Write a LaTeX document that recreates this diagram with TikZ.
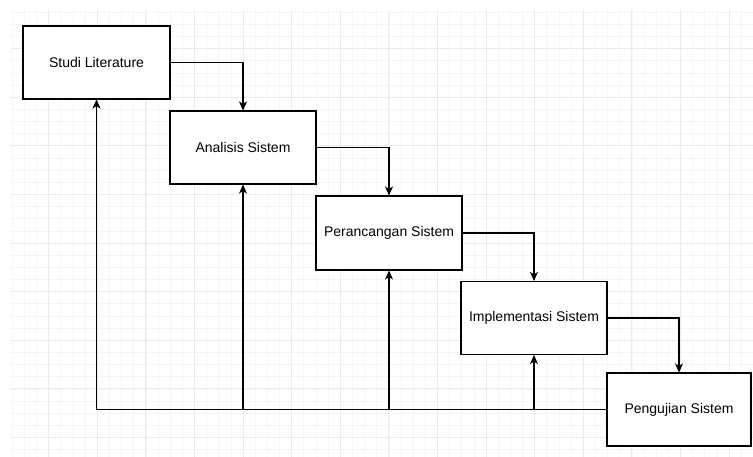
\documentclass[tikz,border=0pt]{standalone}
\usepackage{fontspec}
\setmainfont{Liberation Sans}
\usetikzlibrary{arrows.meta}
\begin{document}
\begin{tikzpicture}[x=1pt,y=-1pt,
    box/.style={draw,line width=1.1pt,fill=white,minimum width=146pt,minimum height=73pt,inner sep=0pt,font=\fontsize{14}{16}\selectfont},
    arr/.style={line width=1.1pt,-{Stealth[length=9pt,width=8pt,inset=2.5pt]}}]
\useasboundingbox (0,0) rectangle (753,457);
% grid
\foreach \i in {1,...,61}{
    \draw[black!4,line width=0.6pt] (\i*12.15,10)--(\i*12.15,457);
}
\foreach \j in {1,...,37}{
    \draw[black!4,line width=0.6pt] (10,\j*12.15)--(753,\j*12.15);
}
\foreach \i in {1,...,15}{
    \draw[black!8,line width=0.7pt] (\i*48.6,10)--(\i*48.6,457);
}
\foreach \j in {1,...,9}{
    \draw[black!8,line width=0.7pt] (10,\j*48.6)--(753,\j*48.6);
}
\node[box,minimum width=147pt](studi) at (96.5,62.5){Studi Literature};
\node[box](analisis) at (243,147.5){Analisis Sistem};
\node[box,minimum height=74pt](perancangan) at (389,233){Perancangan Sistem};
\node[box](implementasi) at (534,318){Implementasi Sistem};
\node[box,minimum width=144pt](pengujian) at (679,409.5){Pengujian Sistem};
\draw[arr](studi.east)-|(analisis.north);
\draw[arr](analisis.east)-|(perancangan.north);
\draw[arr](perancangan.east)-|(implementasi.north);
\draw[arr](implementasi.east)-|(pengujian.north);
% back to every stage
\draw[arr](pengujian.west)-|(studi.south);
\draw[arr](analisis.south|-pengujian.west)--(analisis.south);
\draw[arr](perancangan.south|-pengujian.west)--(perancangan.south);
\draw[arr](implementasi.south|-pengujian.west)--(implementasi.south);
\end{tikzpicture}
\end{document}
